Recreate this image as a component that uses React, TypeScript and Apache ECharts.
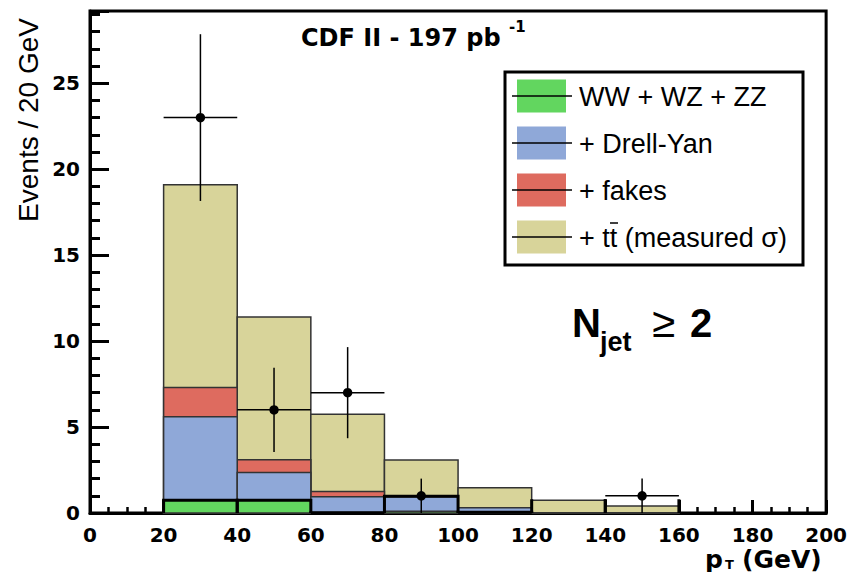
import React, { useEffect, useRef } from "react";
import * as echarts from "echarts";

// ---- data ----
const binLow = [20, 40, 60, 80, 100, 120, 140];
const binWidth = 20;
const diboson = [0.74, 0.74, 0.03, 0.1, 0.05, 0.02, 0.02];
const drellYan = [4.86, 1.61, 0.92, 0.85, 0.25, 0.0, 0.0];
const fakes = [1.7, 0.75, 0.3, 0.0, 0.0, 0.0, 0.0];
const ttbar = [11.8, 8.3, 4.49, 2.13, 1.17, 0.72, 0.38];
const thickOutline = [0.74, 0.74, 0.02, 0.98, 0.05, 0.8, 0.8];
const thickOutlineTop = [true, true, true, true, true, false, false];

const dataX = [30, 50, 70, 90, 150];
const dataY = [23, 6, 7, 1, 1];
const dataErrUp = [4.85, 2.45, 2.65, 1, 1];
const dataErrDown = [4.85, 2.45, 2.65, 1, 1];
const dataHalfWidth = [10, 10, 10, 10, 10];

const xMin = 0;
const xMax = 200;
const xInterval = 20;
const yMin = 0;
const yMax = 29.2;
const yInterval = 5;

const legendNames = ["WW + WZ + ZZ", "+ Drell-Yan", "+ fakes", "+ tt (measured σ)"];
const componentColors = ["#62d65f", "#8fa8d8", "#de6b5f", "#d8d49a"];

export default function App() {
  const ref = useRef<HTMLDivElement>(null);

  useEffect(() => {
    if (!ref.current) return;
    const chart = echarts.init(ref.current, undefined, { renderer: "svg" });

    const components = [diboson, drellYan, fakes, ttbar];
    const cumulative: number[][] = [];
    components.forEach((comp, k) => {
      cumulative.push(comp.map((v, i) => (k > 0 ? cumulative[k - 1][i] : 0) + v));
    });

    const histSeries = (k: number) => ({
      type: "custom",
      name: legendNames[k],
      z: 2 + (3 - k),
      data: binLow.map((lo, i) => [lo, lo + binWidth, cumulative[k][i]]),
      encode: { x: [0, 1], y: 2 },
      renderItem: (params: any, api: any) => {
        const lo = api.value(0);
        const hi = api.value(1);
        const top = api.value(2);
        const p0 = api.coord([lo, 0]);
        const p1 = api.coord([hi, top]);
        return {
          type: "rect",
          shape: { x: p0[0], y: p1[1], width: p1[0] - p0[0], height: p0[1] - p1[1] },
          style: { fill: componentColors[k], stroke: "#333", lineWidth: 1.5 },
        };
      },
    });

    const series: any[] = [3, 2, 1, 0].map((k) => histSeries(k));

    series.push({
      type: "custom",
      name: "outline",
      z: 7,
      data: binLow.map((lo, i) => [lo, lo + binWidth, thickOutline[i], thickOutlineTop[i] ? 1 : 0]),
      encode: { x: [0, 1], y: 2 },
      renderItem: (params: any, api: any) => {
        const lo = api.value(0);
        const hi = api.value(1);
        const v = api.value(2);
        const withTop = api.value(3) > 0;
        const a = api.coord([lo, 0]);
        const b = api.coord([lo, v]);
        const c = api.coord([hi, v]);
        const d = api.coord([hi, 0]);
        const st = { fill: "none", stroke: "#000", lineWidth: 3 };
        if (withTop) {
          return { type: "polyline", shape: { points: [a, b, c, d] }, style: st };
        }
        return {
          type: "group",
          children: [
            { type: "line", shape: { x1: a[0], y1: a[1], x2: b[0], y2: b[1] }, style: st },
            { type: "line", shape: { x1: d[0], y1: d[1], x2: c[0], y2: c[1] }, style: st },
          ],
        };
      },
    });

    series.push({
      type: "custom",
      name: "data",
      z: 8,
      data: dataX.map((x, i) => [x, dataY[i], dataErrUp[i], dataErrDown[i], dataHalfWidth[i]]),
      encode: { x: 0, y: 1 },
      renderItem: (params: any, api: any) => {
        const x = api.value(0);
        const y = api.value(1);
        const up = api.value(2);
        const dn = api.value(3);
        const hw = api.value(4);
        const c = api.coord([x, y]);
        const l = api.coord([x - hw, y]);
        const r = api.coord([x + hw, y]);
        const t = api.coord([x, y + up]);
        const b = api.coord([x, Math.max(0, y - dn)]);
        return {
          type: "group",
          children: [
            { type: "line", shape: { x1: l[0], y1: l[1], x2: r[0], y2: r[1] }, style: { stroke: "#000", lineWidth: 1.5 } },
            { type: "line", shape: { x1: t[0], y1: t[1], x2: b[0], y2: b[1] }, style: { stroke: "#000", lineWidth: 1.5 } },
            { type: "circle", shape: { cx: c[0], cy: c[1], r: 4.7 }, style: { fill: "#000" } },
          ],
        };
      },
    });

    // Legend (ROOT style) built from names & colors
    const legendX = 505;
    const legendY = 72;
    const legendW = 298;
    const legendH = 193;
    const rowCenters = [96, 143, 190, 237];
    const legendChildren: any[] = [
      {
        type: "rect",
        shape: { x: legendX, y: legendY, width: legendW, height: legendH },
        style: { fill: "#fff", stroke: "#000", lineWidth: 3 },
      },
    ];
    legendNames.forEach((name, i) => {
      const cy = rowCenters[i];
      legendChildren.push({
        type: "rect",
        shape: { x: 517, y: cy - 16.5, width: 49, height: 33 },
        style: { fill: componentColors[i], stroke: "none" },
      });
      legendChildren.push({
        type: "line",
        shape: { x1: 512, y1: cy, x2: 572, y2: cy },
        style: { stroke: "#000", lineWidth: 1.5 },
      });
      legendChildren.push({
        type: "text",
        x: 579,
        y: cy + 1,
        style: {
          text: name,
          font: '27px "Liberation Sans"',
          fill: "#000",
          textAlign: "left",
          textVerticalAlign: "middle",
          align: "left",
          verticalAlign: "middle",
        },
      });
    });
    // macron over the second t of "tt"
    legendChildren.push({
      type: "line",
      shape: { x1: 610, y1: 223, x2: 618, y2: 223 },
      style: { stroke: "#000", lineWidth: 1.5 },
    });

    const textEl = (text: string, x: number, y: number, font: string, extra: any = {}) => ({
      type: "text",
      x,
      y,
      ...extra,
      style: {
        text,
        font,
        fill: "#000",
        textAlign: "left",
        textVerticalAlign: "middle",
        align: "left",
        verticalAlign: "middle",
      },
    });

    const graphics: any[] = [
      { type: "group", children: legendChildren, z: 20 },
      textEl("CDF II - 197 pb", 301, 38, 'bold 24px "DejaVu Sans"'),
      textEl("-1", 509, 27, 'bold 15px "DejaVu Sans"'),
      {
        type: "text",
        x: 28,
        y: 120,
        rotation: Math.PI / 2,
        style: {
          text: "Events / 20 GeV",
          font: '28px "Liberation Sans"',
          fill: "#000",
          textAlign: "center",
          textVerticalAlign: "middle",
          align: "center",
          verticalAlign: "middle",
        },
      },
      textEl("p", 705, 559, 'bold 25px "DejaVu Sans"'),
      textEl("T", 725, 564, 'bold 13px "DejaVu Sans"'),
      textEl("(GeV)", 742, 559, 'bold 25px "DejaVu Sans"'),
      textEl("N", 572, 323, 'bold 40px "Liberation Sans"'),
      textEl("jet", 600, 342, 'bold 27px "Liberation Sans"'),
      textEl("≥", 652, 322, '42px "Liberation Sans"'),
      textEl("2", 690, 323, 'bold 40px "Liberation Sans"'),
    ];

    const tickLabel = {
      fontFamily: "DejaVu Sans",
      fontWeight: "bold",
      fontSize: 20,
      color: "#000",
    };

    chart.setOption({
      animation: false,
      backgroundColor: "#fff",
      grid: {
        left: 90,
        right: 22,
        top: 11,
        bottom: 59,
        show: true,
        borderColor: "#000",
        borderWidth: 3,
      },
      xAxis: {
        type: "value",
        min: xMin,
        max: xMax,
        interval: xInterval,
        axisLine: { show: true, lineStyle: { color: "#000", width: 3 } },
        axisTick: { show: true, inside: true, length: 13, lineStyle: { color: "#000", width: 3 } },
        minorTick: { show: true, splitNumber: 4, length: 6, lineStyle: { color: "#000", width: 2.5 } },
        splitLine: { show: false },
        minorSplitLine: { show: false },
        axisLabel: { ...tickLabel, margin: 12 },
      },
      yAxis: {
        type: "value",
        min: yMin,
        max: yMax,
        interval: yInterval,
        axisLine: { show: true, lineStyle: { color: "#000", width: 3 } },
        axisTick: { show: true, inside: true, length: 19, lineStyle: { color: "#000", width: 3 } },
        minorTick: { show: true, splitNumber: 5, length: 10, lineStyle: { color: "#000", width: 3 } },
        splitLine: { show: false },
        minorSplitLine: { show: false },
        axisLabel: { ...tickLabel, margin: 10, showMaxLabel: false },
      },
      series,
      graphic: graphics,
    });

    return () => chart.dispose();
  }, []);

  return (
    <div
      ref={ref}
      style={{ position: "absolute", left: 0, top: 0, width: 850, height: 572 }}
    />
  );
}
